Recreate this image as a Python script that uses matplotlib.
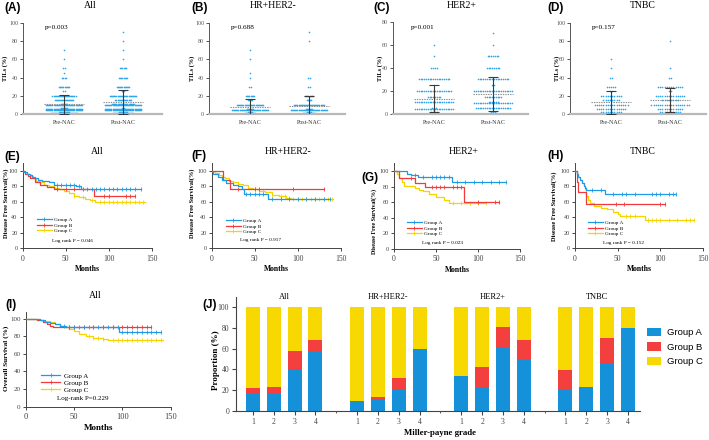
import numpy as np
import matplotlib
matplotlib.use('Agg')
import matplotlib.pyplot as plt
from matplotlib.lines import Line2D
from matplotlib.patches import Patch

W, H = 709, 440
SERIF = 'Liberation Serif'
SANS = 'Liberation Sans'
plt.rcParams['font.family'] = SERIF

# ---------------- DATA ----------------
# TILs dot plots (A-D): number of patients at each TIL level
til_levels = [1, 2, 5, 10, 15, 20, 25, 30, 40, 45, 50, 60, 70, 80, 90]
A_pre = [25, 10, 75, 40, 18, 22, 2, 10, 4, 1, 2, 1, 1, 0, 0]
A_post = [20, 8, 70, 55, 15, 25, 3, 12, 8, 0, 6, 1, 1, 1, 1]
B_pre = [10, 5, 40, 25, 5, 8, 0, 2, 1, 1, 0, 1, 1, 0, 0]
B_post = [12, 5, 40, 28, 5, 8, 0, 2, 2, 0, 0, 0, 0, 1, 1]
C_pre = [6, 4, 25, 22, 8, 20, 1, 18, 4, 0, 1, 1, 0, 0, 0]
C_post = [4, 3, 20, 28, 10, 22, 2, 18, 8, 0, 7, 1, 1, 0, 0]
D_pre = [8, 10, 14, 16, 8, 10, 2, 5, 2, 0, 1, 1, 0, 0, 0]
D_post = [8, 10, 12, 18, 8, 14, 2, 12, 2, 0, 1, 0, 0, 1, 0]
til_mean = {'A': [10.7, 12.9], 'B': [8.0, 8.5], 'C': [13.3, 17.0], 'D': [12.9, 15.4]}
til_sd = {'A': [10.3, 13.1], 'B': [9.0, 11.0], 'C': [11.5, 14.8], 'D': [12.5, 13.6]}
til_p = {'A': 'p=0.003', 'B': 'p=0.688', 'C': 'p=0.001', 'D': 'p=0.157'}
til_xticks = ['Pre-NAC', 'Post-NAC']
subtypes = ['All', 'HR+HER2-', 'HER2+', 'TNBC']
group_names = ['Group A', 'Group B', 'Group C']

# Kaplan-Meier curves: step times (months), survival after each step (%), last follow-up, censor times
E_A = ([2, 5, 8, 11, 14, 18, 22, 30, 36, 62, 68], [98, 96, 94, 92, 90, 88, 87, 85, 82, 80, 77], 138)
E_B = ([3, 6, 9, 14, 20, 28, 36, 83], [96, 93, 90, 86, 82, 79, 76, 67], 130)
E_C = ([2, 5, 8, 12, 16, 20, 25, 30, 36, 42, 48, 54, 60, 66, 72, 78, 84, 95],
       [98, 96, 93, 90, 87, 85, 82, 80, 78, 76, 74, 71, 68, 66, 64, 62, 60, 59], 142)
E_cens = ([40, 45, 50, 55, 60, 65, 75, 80, 85, 90, 95, 100, 105, 110, 115, 120, 125, 130, 138],
          [40, 50, 60, 70, 95, 100, 120, 125, 130],
          [60, 70, 80, 90, 95, 100, 105, 110, 115, 120, 125, 130, 135, 140])

F_A = ([1, 7, 12, 17, 25, 30, 35, 37, 66], [96, 92, 88, 84, 82, 80, 76, 70, 63], 137)
F_B = ([13, 21], [88, 76], 131)
F_C = ([4, 8, 12, 16, 20, 25, 30, 36, 42, 48, 55, 62, 70, 78, 86, 92],
       [97, 95, 92, 90, 87, 85, 83, 81, 78, 76, 74, 72, 69, 67, 65, 64], 141)
F_cens = ([40, 45, 50, 55, 60, 70, 80, 90, 100, 110, 120, 130, 137],
          [30, 50, 55, 95, 131],
          [50, 60, 70, 80, 85, 90, 95, 100, 105, 110, 115, 120, 125, 130, 135, 140])

G_A = ([15, 20, 28, 38, 69], [96, 95, 93, 92, 86], 133)
G_B = ([6, 25, 37, 83], [91, 85, 80, 61], 125)
G_C = ([3, 6, 9, 12, 25, 30, 35, 42, 50, 60, 66], [96, 91, 86, 81, 78, 76, 74, 71, 67, 63, 59], 110)
G_cens = ([25, 35, 45, 50, 55, 60, 65, 75, 85, 95, 105, 115, 125, 133],
          [20, 45, 50, 55, 60, 70, 75, 80, 100, 120, 125],
          [70, 80, 90, 100, 110])

H_A = ([2, 4, 6, 8, 10, 12, 13, 35], [96, 92, 88, 84, 80, 78, 75, 70], 118)
H_B = ([2, 4, 13], [86, 72, 57], 105)
H_C = ([2, 4, 6, 8, 10, 12, 13, 15, 18, 22, 30, 37, 45, 50, 53, 82],
       [96, 92, 88, 84, 80, 76, 68, 62, 58, 55, 52, 50, 47, 44, 41, 37], 140)
H_cens = ([20, 30, 45, 55, 60, 70, 90, 95, 100, 110, 115, 118],
          [48, 58, 100, 105],
          [60, 65, 70, 85, 90, 95, 100, 110, 120, 130, 135, 140])

I_A = ([10, 15, 20, 25, 30, 35, 42, 97], [99, 98, 96, 95, 94, 92, 90, 85], 140)
I_B = ([12, 18, 22, 25, 28], [98, 96, 94, 92, 90], 130)
I_C = ([5, 12, 18, 25, 30, 35, 40, 45, 50, 55, 62, 70, 80, 85],
       [99, 98, 97, 96, 94, 92, 90, 88, 86, 83, 80, 78, 77, 76], 142)
I_cens = ([40, 45, 50, 55, 60, 65, 70, 75, 80, 85, 90, 95, 100, 105, 110, 115, 120, 125, 130, 135, 140],
          [45, 50, 60, 70, 80, 90, 100, 105, 110, 115, 120, 125, 130],
          [65, 70, 75, 80, 90, 95, 100, 105, 110, 115, 120, 125, 130, 135, 140])

km_p = {'E': 'Log rank P = 0.046', 'F': 'Log rank P = 0.917', 'G': 'Log rank P = 0.023',
        'H': 'Log rank P = 0.152', 'I': 'Log-rank P=0.229'}

# Miller-Payne grade composition (J), % per subtype, grades 1-4
mp_grades = ['1', '2', '3', '4']
J_groupA = [[16.7, 16.0, 40.0, 57.4], [10.0, 10.6, 20.0, 60.0], [33.3, 23.0, 61.5, 49.7], [20.0, 22.8, 45.8, 79.8]]
J_groupB = [[5.4, 7.0, 17.4, 11.2], [0.0, 2.4, 11.7, 0.0], [0.0, 19.6, 19.3, 18.9], [19.7, 0.0, 24.7, 0.0]]
J_groupC = [[77.9, 77.0, 42.6, 31.4], [90.0, 87.0, 68.3, 40.0], [66.7, 57.4, 19.2, 31.4], [60.3, 77.2, 29.5, 20.2]]

# ---------------- STYLE ----------------
DOT = '#2EA6EA'
C_A, C_B, C_C = '#1E9BE6', '#F23A3A', '#F5D400'
BAR_A, BAR_B, BAR_C = '#1591DA', '#F43F3F', '#F7D800'
AXC = '#444444'

fig = plt.figure(figsize=(W / 100, H / 100), dpi=100)


def px_rect(l, r, t, b):
    return [l / W, 1 - b / H, (r - l) / W, (b - t) / H]


def ftext(x, y, s, **kw):
    fig.text(x / W, 1 - y / H, s, **kw)


def style_axes(ax, lw=0.7):
    for sp in ['top', 'right']:
        ax.spines[sp].set_visible(False)
    for sp in ['left', 'bottom']:
        ax.spines[sp].set_color(AXC)
        ax.spines[sp].set_linewidth(lw)
    ax.tick_params(colors=AXC, width=lw, length=2.5, pad=1.2)


# ---------------- Row 1: TILs dot plots ----------------
dot_cfg = [
    ('A', (23, 162, 23, 114), 100, A_pre, A_post, 1.1, 34, 5, 90, 57),
    ('B', (209, 345, 23, 114), 100, B_pre, B_post, 1.1, 34, 192, 273, 243),
    ('C', (393, 528, 22, 114), 80, C_pre, C_post, 1.8, 22, 380, 462, 423),
    ('D', (570, 706, 23, 114), 100, D_pre, D_post, 2.2, 18, 557, 643, 604),
]
for k, (key, rect, ymax, pre, post, dx_px, per_row, ylab_x, title_x, p_x) in enumerate(dot_cfg):
    l, r, t, b = rect
    ax = fig.add_axes(px_rect(l, r, t, b))
    xlim = (-41 / 59, (r - l - 41) / 59)
    ax.set_xlim(*xlim)
    ax.set_ylim(0, ymax)
    px_x = (r - l) / (xlim[1] - xlim[0])
    px_y = (b - t) / ymax
    for ci, counts in enumerate([pre, post]):
        xs, ys = [], []
        for v, n in zip(til_levels, counts):
            if n == 0:
                continue
            rows = int(np.ceil(n / per_row))
            for rr in range(rows):
                kk = min(per_row, n - rr * per_row)
                off = (np.arange(kk) - (kk - 1) / 2) * dx_px / px_x
                yy = v + (rr - (rows - 1) / 2) * 1.0 / px_y
                xs.extend(ci + off)
                ys.extend([yy] * kk)
        ax.scatter(xs, ys, s=1.4, color=DOT, linewidths=0, clip_on=False, zorder=2)
        m, sd = til_mean[key][ci], til_sd[key][ci]
        ax.hlines(m, ci - 0.34, ci + 0.34, colors='#8a8a8a', linestyles=(0, (1.2, 1.0)), lw=0.8, zorder=3)
        ax.errorbar(ci, m, yerr=sd, fmt='none', ecolor='#3a3a3a', elinewidth=0.8,
                    capsize=3.5, capthick=0.8, zorder=4)
    for sp in ['top', 'right']:
        ax.spines[sp].set_visible(False)
    ax.spines['left'].set_color('#555555')
    ax.spines['left'].set_linewidth(0.7)
    ax.spines['bottom'].set_color('#b8b8b8')
    ax.spines['bottom'].set_linewidth(1.6)
    ax.set_yticks(np.arange(0, ymax + 1, 20))
    ax.set_xticks([0, 1])
    ax.set_xticklabels(til_xticks)
    ax.tick_params(axis='y', labelsize=4.3, length=2.5, width=0.7, colors='#555555', pad=1)
    ax.tick_params(axis='x', labelsize=4.3, length=0, pad=4, colors='#333333')
    ftext(ylab_x, 68, 'TILs (%)', rotation=90, fontsize=4.5, fontweight='bold', ha='center', va='center')
    ftext(title_x, 6, subtypes[k], fontsize=7, ha='center', va='center')
    ftext(p_x, 28, til_p[key], fontsize=5.2, ha='center', va='center')
    lab_x = [4, 191, 373, 547][k]
    ftext(lab_x, 8, '(%s)' % key, fontsize=8.5, fontweight='bold', family=SANS, ha='left', va='center')


# ---------------- KM panels ----------------
def km_panel(rect, ymax, curves, cens, title, title_xy, label, label_xy, ylab, ylab_xy,
             leg_xy, p_xy, p_text, tick_fs, xtick_fs, leg_fs, xlab_fs, ylab_fs, title_fs):
    l, r, t, b = rect
    ax = fig.add_axes(px_rect(l, r, t, b))
    ax.set_xlim(0, 150)
    ax.set_ylim(0, ymax)
    cols = [C_A, C_B, C_C]
    for idx in [2, 1, 0]:
        tt, ss, end = curves[idx]
        x = [0] + list(tt) + [end]
        y = [100] + list(ss) + [ss[-1]]
        ax.step(x, y, where='post', color=cols[idx], lw=0.9, zorder=3 + (2 - idx))
        c = np.array(cens[idx], dtype=float)
        pos = np.searchsorted(tt, c, side='right')
        yc = np.where(pos == 0, 100, np.array(ss)[np.maximum(pos - 1, 0)])
        ax.plot(c, yc, ls='none', marker='|', ms=2.4, mew=0.6, color=cols[idx], zorder=3 + (2 - idx))
    style_axes(ax)
    ax.set_yticks([0, 20, 40, 60, 80, 100])
    ax.set_xticks([0, 50, 100, 150])
    ax.tick_params(axis='y', labelsize=tick_fs)
    ax.tick_params(axis='x', labelsize=xtick_fs, pad=2)
    ax.set_xlabel('Months', fontsize=xlab_fs, fontweight='bold', labelpad=2)
    ftext(ylab_xy[0], ylab_xy[1], ylab, rotation=90, fontsize=ylab_fs, fontweight='bold', ha='center', va='center')
    ftext(title_xy[0], title_xy[1], title, fontsize=title_fs, ha='center', va='center')
    ftext(label_xy[0], label_xy[1], label, fontsize=8.5, fontweight='bold', family=SANS, ha='left', va='center')
    handles = [Line2D([], [], color=cc, lw=0.9, marker='|', ms=2.4, mew=0.6) for cc in cols]
    fig.legend(handles, group_names, loc='upper left', bbox_to_anchor=(leg_xy[0] / W, 1 - leg_xy[1] / H),
               frameon=False, fontsize=leg_fs, handlelength=2.8, handletextpad=0.5, labelspacing=0.15,
               borderpad=0, borderaxespad=0)
    ftext(p_xy[0], p_xy[1], p_text, fontsize=leg_fs, ha='left', va='center')
    return ax


km_cfg = [
    ((22.7, 151.7, 162.9, 248.3), 110, (E_A, E_B, E_C), E_cens, 'All', (97, 151), '(E)', (4, 157),
     (6, 203), 4.6, (37, 217.5), (52, 240.5), km_p['E']),
    ((211.7, 340.7, 162.9, 248.3), 110, (F_A, F_B, F_C), F_cens, 'HR+HER2-', (288, 151), '(F)', (191, 156),
     (192, 203), 4.6, (226, 218.5), (240, 240), km_p['F']),
    ((394, 520, 163.5, 249), 110, (G_A, G_B, G_C), G_cens, 'HER2+', (464, 151), '(G)', (361, 178),
     (374, 221), 4.3, (407, 220.5), (422, 243), km_p['G']),
    ((575, 703, 162.9, 248.3), 110, (H_A, H_B, H_C), H_cens, 'TNBC', (643, 151), '(H)', (547, 156),
     (554, 206), 4.6, (588, 220.5), (603, 243), km_p['H']),
]
for rect, ymax, curves, cens, title, txy, lab, lxy, ylxy, ylfs, legxy, pxy, ptxt in km_cfg:
    km_panel(rect, ymax, curves, cens, title, txy, lab, lxy, 'Disease Free Survival(%)', ylxy,
             legxy, pxy, ptxt, 4.5, 5.5, 3.8, 5.5, ylfs, 7)

km_panel((25.7, 170.7, 311.5, 406.7), 108, (I_A, I_B, I_C), I_cens, 'All', (95, 295), '(I)', (5, 305),
         'Overall Survival (%)', (6, 358), (41, 373), (57, 398), km_p['I'], 5, 6, 5, 6.5, 5.2, 7)

# ---------------- J: stacked bars ----------------
jl, jr, jt, jb = 236, 640, 296.7, 411
axj = fig.add_axes(px_rect(jl, jr, jt, jb))
unit = 20.83
x0 = -(253 - jl) / unit
axj.set_xlim(x0, x0 + (jr - jl) / unit)
axj.set_ylim(0, 110)
bw = 14 / unit
for g in range(4):
    pos = np.arange(4) + g * 5
    a = np.array(J_groupA[g]); bb = np.array(J_groupB[g]); cc = np.array(J_groupC[g])
    axj.bar(pos, a, width=bw, color=BAR_A, linewidth=0)
    axj.bar(pos, bb, width=bw, bottom=a, color=BAR_B, linewidth=0)
    axj.bar(pos, cc, width=bw, bottom=a + bb, color=BAR_C, linewidth=0)
    axj.text(pos.mean(), 109.5, subtypes[g], fontsize=6, ha='center', va='center')
style_axes(axj, lw=0.8)
axj.spines['left'].set_bounds(0, 110)
axj.set_yticks([0, 20, 40, 60, 80, 100])
ticks = [g * 5 + k for g in range(4) for k in range(4)]
axj.set_xticks(ticks)
axj.set_xticklabels(mp_grades * 4)
axj.set_xticks([4, 9, 14], minor=True)
axj.tick_params(axis='x', which='minor', length=1.5, width=0.6, colors=AXC)
axj.tick_params(axis='both', labelsize=5.5, length=3, pad=2)
ftext(216, 360, 'Proportion (%)', rotation=90, fontsize=6.5, fontweight='bold', ha='center', va='center')
ftext(440, 433, 'Miller-payne grade', fontsize=6.3, fontweight='bold', ha='center', va='center')
ftext(202, 305, '(J)', fontsize=8.5, fontweight='bold', family=SANS, ha='left', va='center')
bar_handles = [Patch(facecolor=BAR_A), Patch(facecolor=BAR_B), Patch(facecolor=BAR_C)]
leg = fig.legend(bar_handles, group_names, loc='center left', bbox_to_anchor=(647 / W, 1 - 347 / H),
                 frameon=False, handlelength=1.5, handleheight=1.0, handletextpad=0.6, labelspacing=0.55,
                 borderpad=0, borderaxespad=0, prop={'family': SANS, 'size': 6.8})

fig.savefig('out.png', dpi=100)
